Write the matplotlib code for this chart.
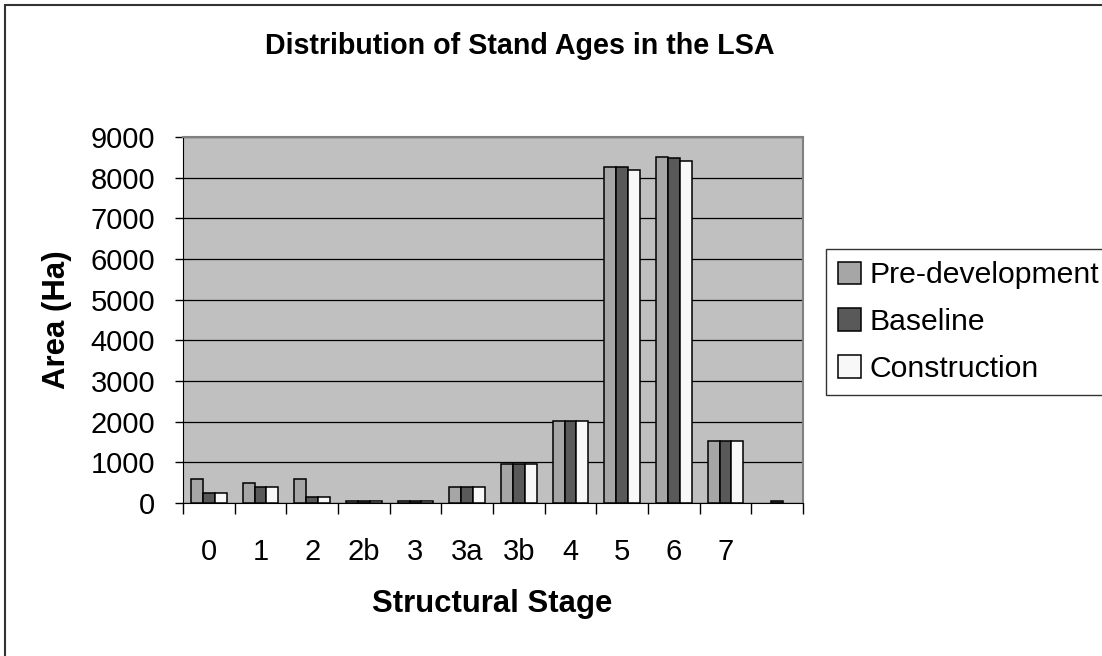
import numpy as np
import matplotlib
matplotlib.use('Agg')
import matplotlib.pyplot as plt
from matplotlib.patches import Rectangle

plt.rcParams['font.family'] = ['Liberation Sans', 'DejaVu Sans']

stages = ['0', '1', '2', '2b', '3', '3a', '3b', '4', '5', '6', '7', '']
pre_dev = [600, 500, 600, 50, 50, 400, 970, 2020, 8250, 8520, 1520, 0]
baseline = [250, 400, 150, 50, 50, 400, 970, 2020, 8250, 8480, 1520, 60]
construction = [250, 400, 150, 50, 50, 400, 970, 2020, 8200, 8420, 1520, 0]
series = ['Pre-development', 'Baseline', 'Construction']
colors = ['#a6a6a6', '#595959', '#f8f8f8']

W, H = 1102, 656
fig = plt.figure(figsize=(W / 100, H / 100), dpi=100)
ax = fig.add_axes([183 / W, 1 - 503 / H, 620 / W, 366 / H])
ax.set_facecolor('#c0c0c0')

x = np.arange(len(stages))
bw = 0.23
for i, (vals, col, name) in enumerate(zip([pre_dev, baseline, construction], colors, series)):
  # empty values are not drawn at all (no flat outline on the axis)
  v = np.array(vals, dtype=float)
  v[v == 0] = np.nan
  ax.bar(x + (i - 1) * bw, v, width=bw, color=col, edgecolor='black',
         linewidth=1.1, label=name, zorder=3)

ax.set_xlim(-0.5, len(stages) - 0.5)
ax.set_ylim(0, 9000)
ax.set_yticks(np.arange(0, 9001, 1000))
ax.yaxis.grid(True, color='black', linewidth=0.9, zorder=1)
ax.set_axisbelow(True)

ax.set_xticks(x)
ax.set_xticklabels(stages)
ax.set_xticks(np.arange(-0.5, len(stages), 1), minor=True)
ax.tick_params(axis='x', which='major', length=0, pad=25, labelsize=21)
ax.tick_params(axis='x', which='minor', length=8, width=1, direction='out')
ax.tick_params(axis='y', length=6, width=1, pad=14, labelsize=21)

for s in ['top', 'right']:
  ax.spines[s].set_color('#808080')
  ax.spines[s].set_linewidth(1.5)
ax.spines['left'].set_color('black')
ax.spines['bottom'].set_color('black')

fig.text(520 / W, 1 - 46 / H, 'Distribution of Stand Ages in the LSA',
         ha='center', va='center', fontsize=20.6, fontweight='bold')
fig.text(492 / W, 1 - 604 / H, 'Structural Stage', ha='center', va='center',
         fontsize=22.4, fontweight='bold')
fig.text(57 / W, 1 - 320 / H, 'Area (Ha)', ha='center', va='center',
         rotation=90, fontsize=22.4, fontweight='bold')

leg = fig.legend(loc='upper left', bbox_to_anchor=(826 / W, 1 - 249 / H),
                 fontsize=21.7, frameon=True, fancybox=False, borderpad=0.4,
                 handlelength=0.75, handleheight=0.75, handletextpad=0.3,
                 labelspacing=0.63, borderaxespad=0)
leg.get_frame().set_edgecolor('black')
leg.get_frame().set_linewidth(1.0)

# outer chart border (only top and left fall inside the image)
fig.patches.append(Rectangle((5 / W, -0.2), 1.2, 1.2 - 5 / H, transform=fig.transFigure,
                             fill=False, edgecolor='#333333', linewidth=1.5))

fig.savefig('out.png', dpi=100)
